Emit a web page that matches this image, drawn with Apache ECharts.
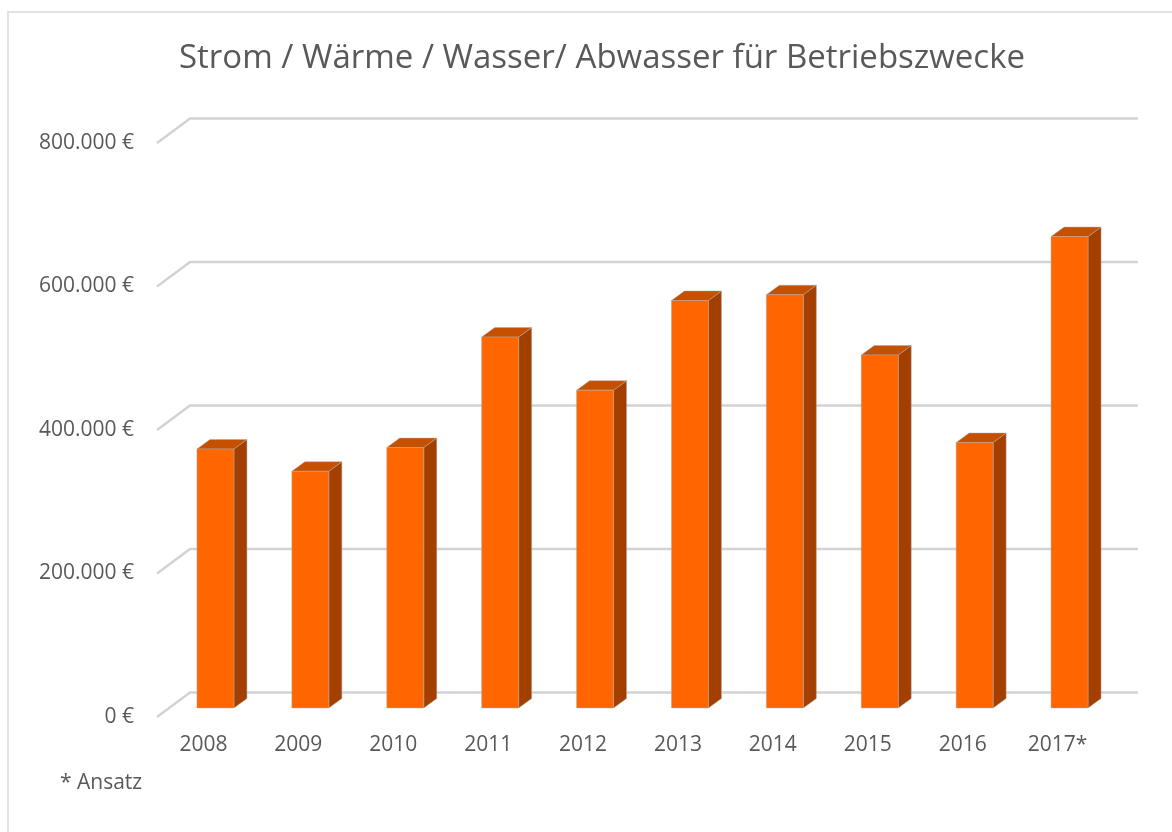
<!DOCTYPE html>
<html>
<head>
<meta charset="utf-8">
<style>
  html, body { margin: 0; padding: 0; background: #fff; }
  #chart { width: 1172px; height: 832px; }
</style>
<script src="https://cdn.jsdelivr.net/npm/echarts@6/dist/echarts.min.js"></script>
</head>
<body>
<div id="chart"></div>
<script>
// Daten
const years = ['2008', '2009', '2010', '2011', '2012', '2013', '2014', '2015', '2016', '2017*'];
const costs = [361000, 330000, 363000, 517000, 443000, 568000, 576000, 492000, 370000, 657000];
const ticks = [0, 200000, 400000, 600000, 800000];

const textColor = '#595959';
const font = '"Open Sans", "Noto Sans", sans-serif';

// Tiefe der Bodenebene bzw. der Säulen (Pseudo-3D)
const wallDx = 33, wallDy = -24.5;
const barOffX = 12, barOffY = -9;
const barDx = 13, barDy = -9.5;

function euro(v) {
    return String(v).replace(/\B(?=(\d{3})+(?!\d))/g, '.') + ' €';
}

const chart = echarts.init(document.getElementById('chart'));

const option = {
    animation: false,
    title: {
        text: 'Strom / Wärme / Wasser/ Abwasser für Betriebszwecke',
        left: 597,
        top: 37,
        textAlign: 'center',
        textStyle: { color: textColor, fontFamily: font, fontWeight: 'normal', fontSize: 33 }
    },
    graphic: [
        {
            type: 'rect',
            shape: { x: 8, y: 12, width: 1200, height: 900 },
            style: { fill: 'none', stroke: '#d9d9d9', lineWidth: 1.5 },
            silent: true
        },
        {
            type: 'text',
            left: 60,
            top: 773,
            style: { text: '* Ansatz', fill: textColor, font: '21px ' + font }
        }
    ],
    grid: { left: 156, right: 67, top: 143, bottom: 115 },
    xAxis: {
        type: 'category',
        data: years,
        axisLine: { show: false },
        axisTick: { show: false },
        axisLabel: { color: textColor, fontFamily: font, fontSize: 21, margin: 18 }
    },
    yAxis: {
        type: 'value',
        min: 0,
        max: 800000,
        interval: 200000,
        axisLine: { show: false },
        axisTick: { show: false },
        splitLine: { show: false },
        axisLabel: {
            color: textColor, fontFamily: font, fontSize: 21, margin: 22,
            padding: [6, 0, 0, 0], formatter: euro
        }
    },
    series: [
        {
            // Rückwand + Seitenlinien
            type: 'custom',
            z: 1,
            silent: true,
            data: ticks.map(t => [0, t]),
            renderItem: function (params, api) {
                const cs = params.coordSys;
                const y = api.coord([0, api.value(1)])[1];
                return {
                    type: 'polyline',
                    shape: {
                        points: [
                            [cs.x + 1, y],
                            [cs.x + 1 + wallDx, y + wallDy],
                            [cs.x + cs.width + wallDx, y + wallDy]
                        ]
                    },
                    style: { stroke: '#d3d3d3', lineWidth: 2.5, fill: 'none' }
                };
            }
        },
        {
            type: 'custom',
            z: 2,
            data: costs.map((v, i) => [i, v]),
            renderItem: function (params, api) {
                const top = api.coord([api.value(0), api.value(1)]);
                const base = api.coord([api.value(0), 0]);
                const bw = api.size([1, 0])[0] * 0.39;
                const x0 = top[0] + barOffX - bw / 2;
                const x1 = x0 + bw;
                const yt = top[1] + barOffY;
                const yb = base[1] + barOffY;
                const edge = 'rgba(170,170,170,0.6)';
                return {
                    type: 'group',
                    children: [
                        {
                            type: 'polygon',
                            shape: { points: [[x1, yt], [x1 + barDx, yt + barDy], [x1 + barDx, yb + barDy], [x1, yb]] },
                            style: { fill: '#a34000', stroke: edge, lineWidth: 0.8 }
                        },
                        {
                            type: 'polygon',
                            shape: { points: [[x0, yt], [x0 + barDx, yt + barDy], [x1 + barDx, yt + barDy], [x1, yt]] },
                            style: { fill: '#c55000', stroke: edge, lineWidth: 0.8 }
                        },
                        {
                            type: 'rect',
                            shape: { x: x0, y: yt, width: bw, height: yb - yt },
                            style: { fill: '#ff6600', stroke: edge, lineWidth: 0.8 }
                        }
                    ]
                };
            }
        }
    ]
};

chart.setOption(option);
</script>
</body>
</html>
